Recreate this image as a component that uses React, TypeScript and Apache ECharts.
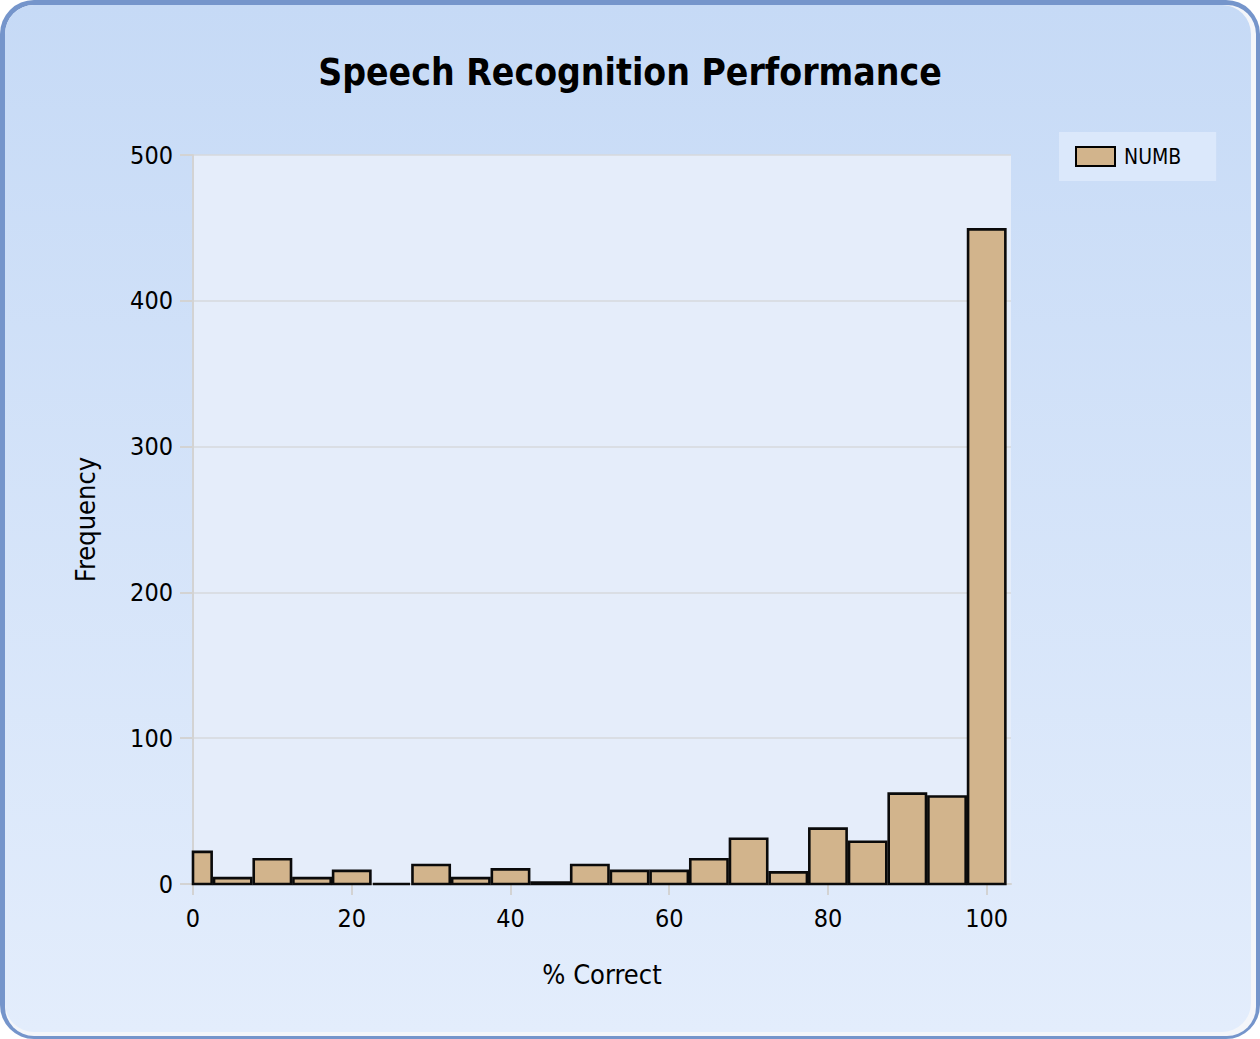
import React, { useEffect, useRef } from "react";
import * as echarts from "echarts";

const binCenters = [0, 5, 10, 15, 20, 25, 30, 35, 40, 45, 50, 55, 60, 65, 70, 75, 80, 85, 90, 95, 100];
const frequencies = [22, 4, 17, 4, 9, 0, 13, 4, 10, 1, 13, 9, 9, 17, 31, 8, 38, 29, 62, 60, 449];
const xTicks = [0, 20, 40, 60, 80, 100];
const seriesName = "NUMB";
const titleText = "Speech Recognition Performance";
const xAxisName = "% Correct";
const yAxisName = "Frequency";

const FONT = "'DejaVu Sans Condensed', 'DejaVu Sans', sans-serif";

export default function App() {
  const ref = useRef<HTMLDivElement>(null);
  useEffect(() => {
    if (!ref.current) return;
    const chart = echarts.init(ref.current, undefined, { renderer: "svg" });
    const data = binCenters.map((c, i) => [c, frequencies[i]]);
    chart.setOption({
      animation: false,
      graphic: [
        {
          type: "rect",
          z: -10,
          silent: true,
          shape: { x: 0, y: 0, width: 1260, height: 1039, r: 34 },
          style: { fill: "#7595CB" },
        },
        {
          type: "rect",
          z: -9,
          silent: true,
          shape: { x: 5, y: 5, width: 1251, height: 1031, r: 29 },
          style: { fill: "#F4F6FA" },
        },
        {
          type: "rect",
          z: -8,
          silent: true,
          shape: { x: 5, y: 5, width: 1246, height: 1027, r: 29 },
          style: {
            fill: new echarts.graphic.LinearGradient(0, 0, 0, 1, [
              { offset: 0, color: "#C6DAF6" },
              { offset: 1, color: "#E3EDFC" },
            ]),
          },
        },
      ],
      title: {
        text: titleText,
        left: "center",
        top: 49,
        textStyle: { fontFamily: FONT, fontSize: 37, fontWeight: "bold", color: "#000" },
      },
      legend: {
        left: 1059,
        top: 132,
        orient: "vertical",
        padding: [14, 35, 14, 16],
        backgroundColor: "rgba(222,234,251,0.85)",
        itemWidth: 39,
        itemHeight: 19,
        itemGap: 10,
        data: [{ name: seriesName, icon: "rect" }],
        itemStyle: { color: "#D2B48C", borderColor: "#000", borderWidth: 2 },
        textStyle: { fontFamily: FONT, fontSize: 21, color: "#000", padding: [0, 0, 0, 4] },
      },
      grid: {
        left: 193,
        top: 155,
        width: 818,
        height: 729,
        show: true,
        backgroundColor: "#E5EDFA",
        borderWidth: 0,
      },
      xAxis: {
        type: "value",
        min: 0,
        max: 103.06,
        interval: 20,
        name: xAxisName,
        nameLocation: "middle",
        nameGap: 77,
        nameTextStyle: { fontFamily: FONT, fontSize: 27, color: "#000" },
        axisLine: { show: true, lineStyle: { color: "#D3D3D3", width: 2 } },
        axisTick: { show: true, length: 11, lineStyle: { color: "#D3D3D3", width: 2 }, customValues: xTicks },
        axisLabel: {
          margin: 22,
          fontFamily: FONT,
          fontSize: 25,
          color: "#000",
          customValues: xTicks,
          formatter: (v: number) => (v % 20 === 0 ? String(v) : ""),
        },
        splitLine: { show: false },
      },
      yAxis: {
        type: "value",
        min: 0,
        max: 500,
        interval: 100,
        name: yAxisName,
        nameLocation: "middle",
        nameGap: 94,
        nameRotate: 90,
        nameTextStyle: { fontFamily: FONT, fontSize: 27, color: "#000" },
        axisLine: { show: true, lineStyle: { color: "#D3D3D3", width: 2 } },
        axisTick: { show: true, length: 13, lineStyle: { color: "#D3D3D3", width: 2 } },
        axisLabel: { margin: 20, fontFamily: FONT, fontSize: 25, color: "#000" },
        splitLine: { show: true, lineStyle: { color: "#D6D8DC", width: 1.5 } },
      },
      series: [
        {
          type: "custom",
          name: seriesName,
          data,
          itemStyle: { color: "#D2B48C", borderColor: "#000", borderWidth: 2 },
          renderItem: (params: any, api: any) => {
            const x = api.value(0);
            const y = api.value(1);
            const p0 = api.coord([x - 2.5, y]);
            const p1 = api.coord([x + 2.5, 0]);
            const cs = params.coordSys;
            const rect = echarts.graphic.clipRectByRect(
              { x: p0[0] + 1.2, y: p0[1], width: p1[0] - p0[0] - 2.4, height: p1[1] - p0[1] },
              { x: cs.x, y: cs.y, width: cs.width, height: cs.height }
            );
            if (!rect) return null;
            return {
              type: "rect",
              shape: rect,
              style: { fill: "#D2B48C", stroke: "#0A0A0A", lineWidth: 2.6 },
            };
          },
        },
      ],
    });
    return () => chart.dispose();
  }, []);
  return (
    <div
      ref={ref}
      style={{ position: "absolute", left: 0, top: 0, width: 1260, height: 1039 }}
    />
  );
}
